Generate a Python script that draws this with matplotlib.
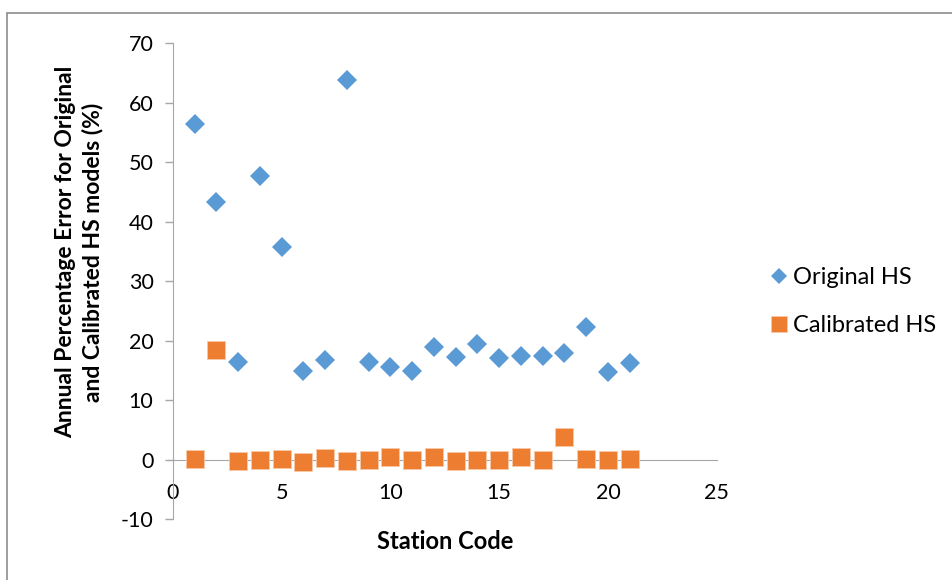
import matplotlib.pyplot as plt
from matplotlib.patches import Rectangle

plt.rcParams['font.family'] = ['Lato', 'DejaVu Sans']
plt.rcParams['axes.unicode_minus'] = False

# station codes and errors
stations = list(range(1, 22))
original_hs = [56.4, 43.3, 16.5, 47.7, 35.7, 14.9, 16.8, 63.8, 16.4, 15.6, 14.9,
               18.9, 17.2, 19.4, 17.1, 17.5, 17.4, 17.9, 22.4, 14.8, 16.3]
calibrated_hs = [0.1, 18.5, -0.2, 0.0, 0.1, -0.4, 0.3, -0.2, 0.0, 0.4, -0.1,
                 0.4, -0.2, 0.0, 0.0, 0.5, -0.1, 3.8, 0.2, -0.1, 0.2]
x_ticks = [0, 5, 10, 15, 20, 25]
y_ticks = [-10, 0, 10, 20, 30, 40, 50, 60, 70]

blue = '#5B9BD5'
orange = '#ED7D31'
axis_gray = '#A6A6A6'

fig = plt.figure(figsize=(9.53, 5.8), dpi=100)
ax = fig.add_axes([0.1815, 0.1047, 0.5705, 0.8206])

ax.plot(stations, original_hs, linestyle='none', marker='D', markersize=9.8,
        color=blue, markeredgewidth=0, label='Original HS')
ax.plot(stations, calibrated_hs, linestyle='none', marker='s', markersize=13.6,
        color=orange, markeredgecolor='#F8C8A8', markeredgewidth=0.6,
        label='Calibrated HS')

ax.set_xlim(0, 25)
ax.set_ylim(-10, 70)
ax.set_xticks(x_ticks)
ax.set_yticks(y_ticks)

for s in ['top', 'right']:
    ax.spines[s].set_visible(False)
ax.spines['bottom'].set_position(('data', 0))
ax.spines['bottom'].set_color(axis_gray)
ax.spines['left'].set_color(axis_gray)
ax.spines['bottom'].set_zorder(0)

ax.tick_params(axis='y', length=6, width=1, color=axis_gray, pad=8,
               labelsize=15.5, labelcolor='black', direction='out')
ax.tick_params(axis='x', length=0, pad=17, labelsize=15.5, labelcolor='black')
# end cap tick at the right end of the x axis
ax.set_xticks([25], minor=True)
ax.tick_params(axis='x', which='minor', length=6, width=1, color=axis_gray,
               direction='out')

fig.text(0.467, 0.066, 'Station Code', ha='center', va='center',
         fontsize=17, fontweight='bold')
fig.text(0.083, 1 - 252 / 580,
         'Annual Percentage Error for Original\nand Calibrated HS models (%)',
         ha='center', va='center', rotation=90, fontsize=16.5,
         fontweight='bold', linespacing=1.35)

ax.legend(loc='center left', bbox_to_anchor=(1.06, 0.457), frameon=False,
          fontsize=17, handlelength=0.7, handletextpad=0.25, markerscale=0.8,
          labelspacing=1.15)

# outer chart frame
fig.patches.append(Rectangle((7 / 953, -0.1), 1.1, 1 - 13 / 580 + 0.1,
                             transform=fig.transFigure, fill=False,
                             edgecolor='#8C8C8C', linewidth=1.2))

fig.savefig('out.png', dpi=100)
